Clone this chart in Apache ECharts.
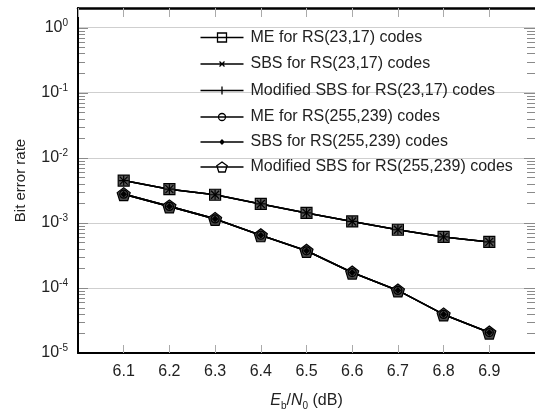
<!DOCTYPE html>
<html>
<head>
<meta charset="utf-8">
<script src="https://cdn.jsdelivr.net/npm/echarts@6/dist/echarts.min.js"></script>
<style>
  html, body { margin: 0; padding: 0; background: #fff; }
  #chart { width: 535px; height: 416px; }
</style>
</head>
<body>
<div id="chart"></div>
<script>
// Bit error rate vs Eb/N0 for RS(23,17) and RS(255,239) decoders.
// The three decoders give identical curves for each code, so the markers overlap.

const ebN0 = [6.1, 6.2, 6.3, 6.4, 6.5, 6.6, 6.7, 6.8, 6.9];

// RS(23,17)
const me23 = [4.46e-3, 3.29e-3, 2.70e-3, 1.95e-3, 1.42e-3, 1.05e-3, 7.83e-4, 6.07e-4, 5.09e-4];
const sbs23 = [4.46e-3, 3.29e-3, 2.70e-3, 1.95e-3, 1.42e-3, 1.05e-3, 7.83e-4, 6.07e-4, 5.09e-4];
const modSbs23 = [4.46e-3, 3.29e-3, 2.70e-3, 1.95e-3, 1.42e-3, 1.05e-3, 7.83e-4, 6.07e-4, 5.09e-4];

// RS(255,239)
const me255 = [2.76e-3, 1.79e-3, 1.15e-3, 6.44e-4, 3.72e-4, 1.72e-4, 9.16e-5, 3.92e-5, 2.06e-5];
const sbs255 = [2.76e-3, 1.79e-3, 1.15e-3, 6.44e-4, 3.72e-4, 1.72e-4, 9.16e-5, 3.92e-5, 2.06e-5];
const modSbs255 = [2.76e-3, 1.79e-3, 1.15e-3, 6.44e-4, 3.72e-4, 1.72e-4, 9.16e-5, 3.92e-5, 2.06e-5];

const seriesNames = [
    "ME for RS(23,17) codes",
    "SBS for RS(23,17) codes",
    "Modified SBS for RS(23,17) codes",
    "ME for RS(255,239) codes",
    "SBS for RS(255,239) codes",
    "Modified SBS for RS(255,239) codes",
];

// log-axis tick marks (decades and 2..9 within each decade)
const decadeTicks = [1e-4, 1e-3, 1e-2, 1e-1, 1e0];
const minorMultipliers = [2, 3, 4, 5, 6, 7, 8, 9];
const minorDecades = [1e-5, 1e-4, 1e-3, 1e-2, 1e-1];

const X_MIN = 6.0;
const X_MAX = 7.0;
const FONT = "'Liberation Sans', Arial, sans-serif";

// ---------------- symbols ----------------

const SYM_X = "path://M0,0 L10,10 M10,0 L0,10";
const SYM_PLUS = "path://M5,0 L5,10 M0,5 L10,5";
const SYM_PENTA = "path://M0,-1 L0.951,-0.309 L0.588,0.809 L-0.588,0.809 L-0.951,-0.309 Z";

// legend icons: line + marker, drawn in a 43x14 box (corner points fix the bounds)
const BOX = "M0,0 L0,0 M43,14 L43,14 M0,7 L43,7 ";
const ICON_SQUARE = "path://" + BOX + "M17,2.5 L26,2.5 L26,11.5 L17,11.5 Z";
const ICON_X = "path://" + BOX + "M19,4.5 L24,9.5 M24,4.5 L19,9.5";
const ICON_PLUS = "path://" + BOX + "M21.5,3 L21.5,11";
const ICON_CIRCLE = "path://" + BOX + "M25,7 A3.5,3.5 0 1 1 18,7 A3.5,3.5 0 1 1 25,7 Z";
const ICON_DIAMOND = "path://" + BOX + "M21.5,5 L23.5,7 L21.5,9 L19.5,7 Z";
const ICON_PENTA = "path://" + BOX + "M21.5,2 L26.7,5.8 L24.7,12 L18.3,12 L16.3,5.8 Z";

function pairs(ys) {
    return ebN0.map((x, i) => [x, ys[i]]);
}

function lineSeries(name, ys, symbol, size, fill) {
    return {
        name,
        type: "line",
        data: pairs(ys),
        symbol,
        symbolSize: size,
        showAllSymbol: true,
        lineStyle: { color: "#000", width: 1.6 },
        itemStyle: { color: fill, borderColor: "#000", borderWidth: 1.2 },
        emphasis: { disabled: true },
    };
}

const minorTicks = [];
for (const d of minorDecades) for (const m of minorMultipliers) minorTicks.push(m * d);
const allTicks = decadeTicks.concat(minorTicks);

function isDecade(v) {
    const e = Math.log10(v);
    return Math.abs(e - Math.round(e)) < 1e-6;
}

const chart = echarts.init(document.getElementById("chart"), null, { renderer: "canvas" });

chart.setOption({
    animation: false,
    textStyle: { fontFamily: FONT },
    grid: { left: 78, top: 8, width: 459, height: 349 },
    legend: {
        left: 198,
        top: 28,
        padding: 0,
        orient: "vertical",
        itemWidth: 43,
        itemHeight: 14,
        itemGap: 7.5,
        selectedMode: false,
        textStyle: { fontSize: 16, color: "#222", fontFamily: FONT, padding: [0, 0, 0, 2] },
        itemStyle: { color: "none", borderColor: "#000", borderWidth: 1.3 },
        data: [
            { name: seriesNames[0], icon: ICON_SQUARE },
            { name: seriesNames[1], icon: ICON_X },
            { name: seriesNames[2], icon: ICON_PLUS },
            { name: seriesNames[3], icon: ICON_CIRCLE },
            { name: seriesNames[4], icon: ICON_DIAMOND, itemStyle: { color: "#000", borderColor: "#000", borderWidth: 1.3 } },
            { name: seriesNames[5], icon: ICON_PENTA },
        ],
    },
    xAxis: [
        {
            type: "value",
            min: X_MIN,
            max: X_MAX,
            interval: 0.1,
            position: "bottom",
            name: "{i|E}{sb|b}{n|/}{i|N}{sb|0}{n| (dB)}",
            nameLocation: "middle",
            nameGap: 38,
            nameTextStyle: {
                rich: {
                    i: { fontSize: 16, fontStyle: "italic", color: "#222", fontFamily: FONT },
                    n: { fontSize: 16, color: "#222", fontFamily: FONT },
                    sb: { fontSize: 10, color: "#222", fontFamily: FONT, padding: [10, 0, 0, 0] },
                },
            },
            axisLine: { onZero: false, lineStyle: { color: "#000", width: 2 } },
            axisTick: { inside: true, length: 8, lineStyle: { color: "#aaa", width: 1 } },
            axisLabel: {
                fontSize: 16,
                color: "#222",
                margin: 11,
                showMinLabel: false,
                showMaxLabel: false,
                formatter: (v) => v.toFixed(1),
            },
            splitLine: { show: false },
        },
        {
            type: "value",
            min: X_MIN,
            max: X_MAX,
            interval: 0.1,
            position: "top",
            axisLine: { onZero: false, lineStyle: { color: "#000", width: 2.5 } },
            axisTick: { inside: true, length: 9, lineStyle: { color: "#aaa", width: 1 } },
            axisLabel: { show: false },
            splitLine: { show: false },
        },
    ],
    yAxis: {
        type: "log",
        logBase: 10,
        min: 1e-5,
        max: 2,
        name: "Bit error rate",
        nameLocation: "middle",
        nameGap: 50,
        nameTextStyle: { fontSize: 15, color: "#222", fontFamily: FONT },
        axisLine: { onZero: false, lineStyle: { color: "#000", width: 2 } },
        axisTick: { show: false },
        axisLabel: {
            margin: 10,
            formatter: (v) => {
                const e = Math.log10(v);
                if (Math.abs(e - Math.round(e)) > 1e-6) return "";
                return "{b|10}{s|" + Math.round(e) + "}";
            },
            rich: {
                b: { fontSize: 16, color: "#222", fontFamily: FONT },
                s: { fontSize: 10, color: "#222", fontFamily: FONT, padding: [0, 0, 9, 0] },
            },
        },
        splitLine: { show: true, lineStyle: { color: "#cfcfcf", width: 1 } },
    },
    series: [
        {
            name: "logTicks",
            type: "custom",
            silent: true,
            clip: false,
            z: 5,
            data: allTicks.map((v) => [X_MIN, v]),
            renderItem: (params, api) => {
                const cs = params.coordSys;
                const v = api.value(1);
                const y = Math.round(api.coord([api.value(0), v])[1]) + 0.5;
                const len = isDecade(v) ? 9 : 6;
                const style = { stroke: "#8a8a8a", lineWidth: 1 };
                return {
                    type: "group",
                    children: [
                        { type: "line", shape: { x1: cs.x + 1, y1: y, x2: cs.x + 1 + len, y2: y }, style },
                        { type: "line", shape: { x1: cs.x + cs.width - len - 2, y1: y, x2: cs.x + cs.width, y2: y }, style },
                    ],
                };
            },
        },
        lineSeries(seriesNames[0], me23, "rect", 11, "#5a5a5a"),
        lineSeries(seriesNames[1], sbs23, SYM_X, 8, "none"),
        lineSeries(seriesNames[2], modSbs23, SYM_PLUS, 10, "none"),
        lineSeries(seriesNames[5], modSbs255, SYM_PENTA, 13, "#4a4a4a"),
        lineSeries(seriesNames[3], me255, "circle", 8, "none"),
        lineSeries(seriesNames[4], sbs255, "diamond", 5, "#000"),
    ],
});
</script>
</body>
</html>
